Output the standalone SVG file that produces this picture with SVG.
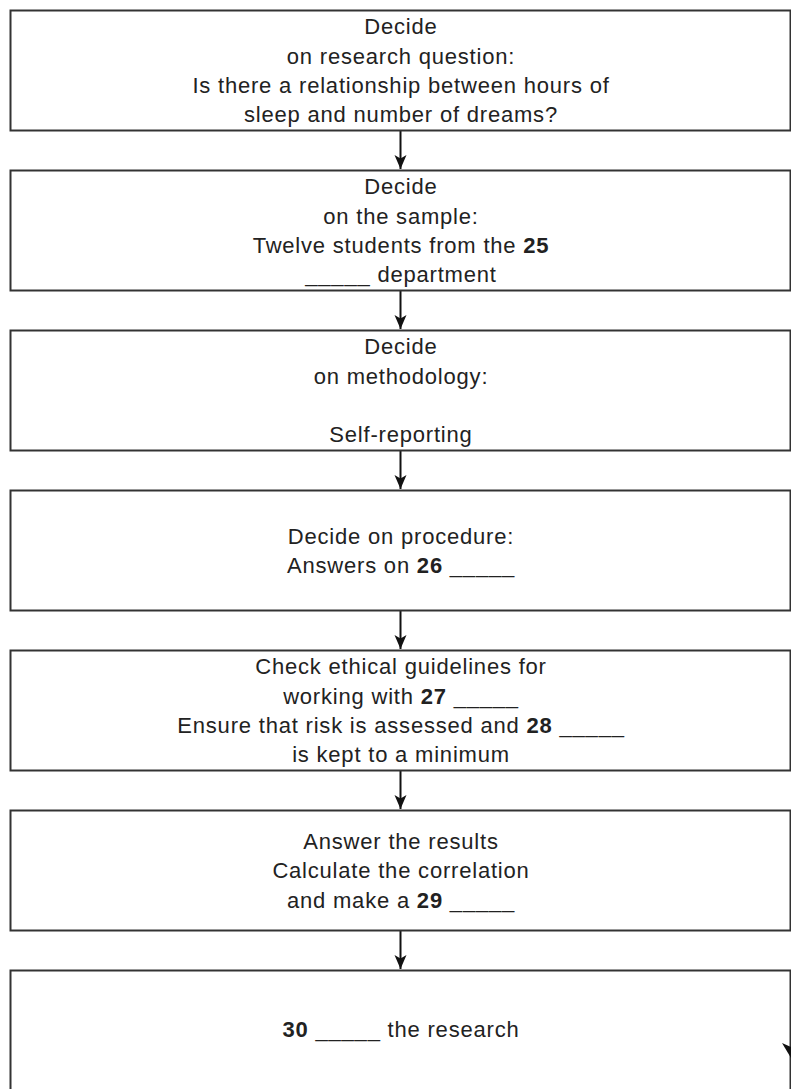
<svg xmlns="http://www.w3.org/2000/svg" width="791" height="1089" viewBox="0 0 791 1089">
  <style>
    .box { fill: #ffffff; stroke: #333333; stroke-width: 2; }
    .t { font-family: "Liberation Sans", Arial, sans-serif; font-size: 22px; letter-spacing: 0.8px; fill: #222222; text-anchor: middle; }
    .b { font-weight: bold; }
    .edge { stroke: #111111; stroke-width: 2; fill: none; marker-end: url(#arrow); }
  </style>
  <defs>
    <marker id="arrow" markerUnits="userSpaceOnUse" markerWidth="16" markerHeight="14" viewBox="0 0 16 14" refX="15" refY="7" orient="auto">
      <path d="M1 1 L15 7 L1 13 L4.5 7 Z" fill="#111111"/>
    </marker>
  </defs>
  <rect width="791" height="1089" fill="#ffffff"/>

  <g id="connectors">
    <line class="edge" x1="400.5" y1="131" x2="400.5" y2="169"/>
    <line class="edge" x1="400.5" y1="291" x2="400.5" y2="329"/>
    <line class="edge" x1="400.5" y1="451" x2="400.5" y2="489"/>
    <line class="edge" x1="400.5" y1="611" x2="400.5" y2="649"/>
    <line class="edge" x1="400.5" y1="771" x2="400.5" y2="809"/>
    <line class="edge" x1="400.5" y1="931" x2="400.5" y2="969"/>
  </g>

  <g id="node1">
    <rect class="box" x="10.5" y="10.5" width="780" height="120"/>
    <text class="t" x="401" y="34">Decide</text>
    <text class="t" x="401" y="63.5">on research question:</text>
    <text class="t" x="401" y="93">Is there a relationship between hours of</text>
    <text class="t" x="401" y="122">sleep and number of dreams?</text>
  </g>

  <g id="node2">
    <rect class="box" x="10.5" y="170.5" width="780" height="120"/>
    <text class="t" x="401" y="194">Decide</text>
    <text class="t" x="401" y="223.5">on the sample:</text>
    <text class="t" x="401" y="253">Twelve students from the <tspan class="b">25</tspan></text>
    <text class="t" x="401" y="282">_____ department</text>
  </g>

  <g id="node3">
    <rect class="box" x="10.5" y="330.5" width="780" height="120"/>
    <text class="t" x="401" y="354">Decide</text>
    <text class="t" x="401" y="383.5">on methodology:</text>
    <text class="t" x="401" y="442">Self-reporting</text>
  </g>

  <g id="node4">
    <rect class="box" x="10.5" y="490.5" width="780" height="120"/>
    <text class="t" x="401" y="543.5">Decide on procedure:</text>
    <text class="t" x="401" y="573">Answers on <tspan class="b">26</tspan> _____</text>
  </g>

  <g id="node5">
    <rect class="box" x="10.5" y="650.5" width="780" height="120"/>
    <text class="t" x="401" y="674">Check ethical guidelines for</text>
    <text class="t" x="401" y="703.5">working with <tspan class="b">27</tspan> _____</text>
    <text class="t" x="401" y="733">Ensure that risk is assessed and <tspan class="b">28</tspan> _____</text>
    <text class="t" x="401" y="762">is kept to a minimum</text>
  </g>

  <g id="node6">
    <rect class="box" x="10.5" y="810.5" width="780" height="120"/>
    <text class="t" x="401" y="848.5">Answer the results</text>
    <text class="t" x="401" y="878">Calculate the correlation</text>
    <text class="t" x="401" y="907.5">and make a <tspan class="b">29</tspan> _____</text>
  </g>

  <g id="node7">
    <rect class="box" x="10.5" y="970.5" width="780" height="120"/>
    <text class="t" x="401" y="1037"><tspan class="b">30</tspan> _____ the research</text>
    <path d="M782 1043 L791 1047 L791 1058 Z" fill="#111111"/>
  </g>
</svg>
